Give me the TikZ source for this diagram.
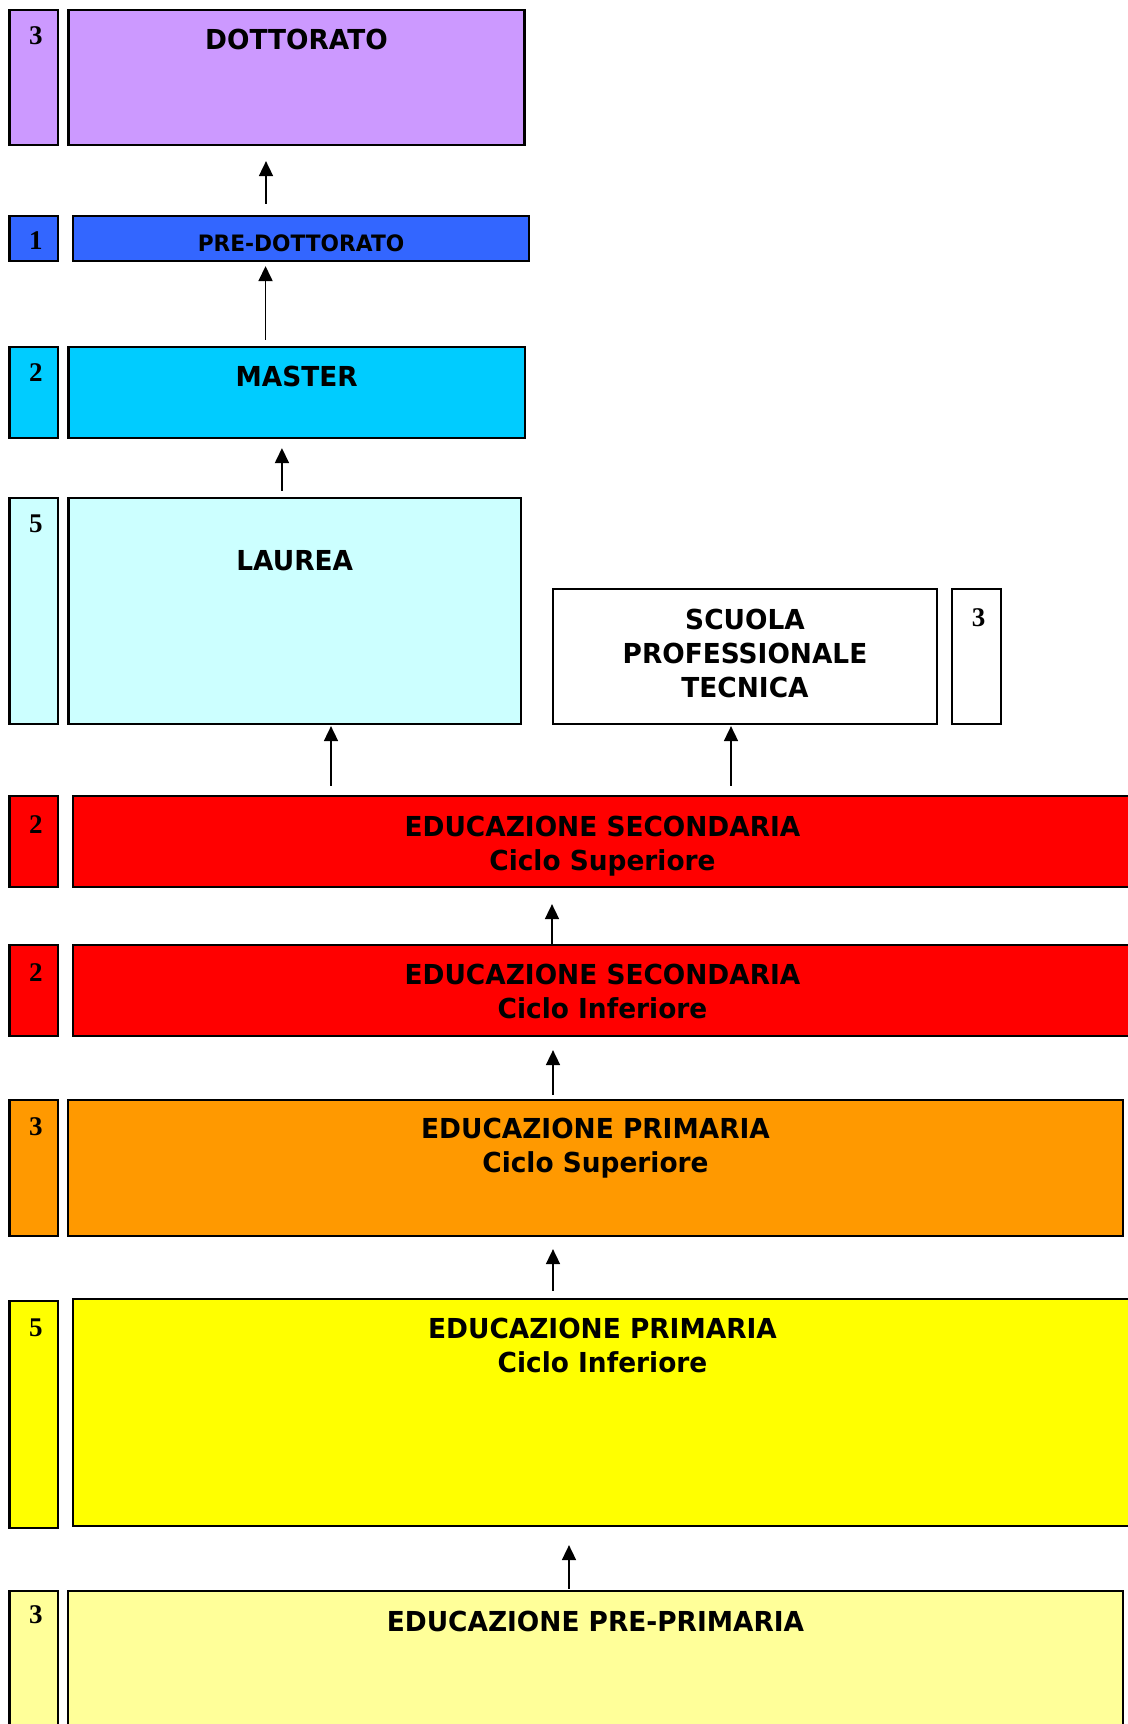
\documentclass[tikz,border=0pt]{standalone}
\usepackage{fontspec}
\usepackage{xcolor}
\usepackage{tikz}
\usetikzlibrary{arrows.meta, positioning, fit}

\newfontfamily\lblfont[FakeStretch=0.96]{DejaVu Sans}
\newfontfamily\numfont{Liberation Serif}

\definecolor{cDott}{HTML}{CC99FF}
\definecolor{cPreDott}{HTML}{3366FF}
\definecolor{cMaster}{HTML}{00CCFF}
\definecolor{cLaurea}{HTML}{CCFFFF}
\definecolor{cSec}{HTML}{FF0000}
\definecolor{cPrimSup}{HTML}{FF9900}
\definecolor{cPrimInf}{HTML}{FFFF00}
\definecolor{cPrePrim}{HTML}{FFFF99}

\begin{document}
\begin{tikzpicture}[
    x=0.5pt, y=-0.5pt,
    box/.style={draw=black, line width=1.1pt, fill=#1, inner sep=0pt},
    lbl/.style={font=\lblfont\bfseries\fontsize{13.75}{17}\selectfont,
        align=center, inner sep=0pt},
    num/.style={font=\numfont\bfseries\fontsize{13.5}{15}\selectfont,
        inner sep=0pt, xshift=1pt},
    arr/.style={-{Triangle[length=7.5pt, width=7pt]}, line width=0.85pt},
]
\useasboundingbox (0,0) rectangle (1128,1724);

%% Years column
\node[box=cDott,     fit={(9.5,10) (58,145)}]    (ndott) {};
\node[box=cPreDott,  fit={(9.5,216) (58,261)}]   (npredott) {};
\node[box=cMaster,   fit={(9.5,347) (58,438)}]   (nmaster) {};
\node[box=cLaurea,   fit={(9.5,498) (58,724)}]   (nlaurea) {};
\node[box=white,     fit={(952,589) (1001,724)}] (nscuola) {};
\node[box=cSec,      fit={(9.5,796) (58,887)}]   (nsecsup) {};
\node[box=cSec,      fit={(9.5,945) (58,1036)}]  (nsecinf) {};
\node[box=cPrimSup,  fit={(9.5,1100) (58,1236)}] (nprimsup) {};
\node[box=cPrimInf,  fit={(9.5,1301) (58,1528)}] (npriminf) {};
\node[box=cPrePrim,  fit={(9.5,1591) (58,1750)}] (npreprim) {};

\node[num, below=8.5pt of ndott.north]    (ydott)    {3};
\node[num, below=8pt of npredott.north]   (ypredott) {1};
\node[num, below=8.5pt of nmaster.north]  (ymaster)  {2};
\node[num, below=9pt of nlaurea.north]    (ylaurea)  {5};
\node[num, below=10pt of nscuola.north]   (yscuola)  {3};
\node[num, below=10pt of nsecsup.north]   (ysecsup)  {2};
\node[num, below=9.5pt of nsecinf.north]  (ysecinf)  {2};
\node[num, below=9pt of nprimsup.north]   (yprimsup) {3};
\node[num, below=9.5pt of npriminf.north] (ypriminf) {5};
\node[num, below=7.5pt of npreprim.north] (ypreprim) {3};

%% Levels
\node[box=cDott,     fit={(68.5,10) (524.5,145)}]  (dott) {};
\node[box=cPreDott,  fit={(73,216) (529,261)}]     (predott) {};
\node[box=cMaster,   fit={(68.5,347) (525,438)}]   (master) {};
\node[box=cLaurea,   fit={(68.5,498) (521,724)}]   (laurea) {};
\node[box=white,     fit={(553,589) (937,724)}]    (scuola) {};
\node[box=cSec,      fit={(73,796) (1140,887)}]    (secsup) {};
\node[box=cSec,      fit={(73,945) (1140,1036)}]   (secinf) {};
\node[box=cPrimSup,  fit={(68,1100) (1123,1236)}]  (primsup) {};
\node[box=cPrimInf,  fit={(73,1299) (1140,1526)}]  (priminf) {};
\node[box=cPrePrim,  fit={(68,1591) (1123,1750)}]  (preprim) {};

\node[lbl, below=10pt of dott.north]     (tdott)    {DOTTORATO};
\node[lbl, below=9.5pt of predott.north, font=\lblfont\bfseries\fontsize{11.3}{13}\selectfont]
    (tpredott) {PRE-DOTTORATO};
\node[lbl, below=10pt of master.north]   (tmaster)  {MASTER};
\node[lbl, below=26.5pt of laurea.north] (tlaurea)  {LAUREA};
\node[lbl, below=10.5pt of scuola.north] (tscuola)  {SCUOLA\\PROFESSIONALE\\TECNICA};
\node[lbl, below=10.5pt of secsup.north, xshift=-2pt] (tsecsup)
    {EDUCAZIONE SECONDARIA\\Ciclo Superiore};
\node[lbl, below=10pt of secinf.north, xshift=-2pt]   (tsecinf)
    {EDUCAZIONE SECONDARIA\\Ciclo Inferiore};
\node[lbl, below=9.5pt of primsup.north] (tprimsup)
    {EDUCAZIONE PRIMARIA\\Ciclo Superiore};
\node[lbl, below=10pt of priminf.north, xshift=-2pt]  (tpriminf)
    {EDUCAZIONE PRIMARIA\\Ciclo Inferiore};
\node[lbl, below=10.5pt of preprim.north] (tpreprim) {EDUCAZIONE PRE-PRIMARIA};

%% Arrows
\draw[arr, shorten <=5.5pt, shorten >=7.5pt]
    ([xshift=-17.5pt]predott.north) -- ([xshift=-17.5pt]predott.north |- dott.south);
\draw[arr, shorten <=3pt, shorten >=2pt]
    ([xshift=-15.6pt]master.north) -- ([xshift=-15.6pt]master.north |- predott.south);
\draw[arr, shorten <=3pt, shorten >=4.5pt]
    ([xshift=-6.4pt]laurea.north) -- ([xshift=-6.4pt]laurea.north |- master.south);
\draw[arr, shorten <=4.5pt, shorten >=0.5pt]
    ([xshift=-137.75pt]secsup.north) -- ([xshift=-137.75pt]secsup.north |- laurea.south);
\draw[arr, shorten <=4.5pt, shorten >=0.5pt]
    ([xshift=62.25pt]secsup.north) -- ([xshift=62.25pt]secsup.north |- scuola.south);
\draw[arr, shorten >=8pt]
    ([xshift=-27.25pt]secinf.north) -- ([xshift=-27.25pt]secinf.north |- secsup.south);
\draw[arr, shorten <=2pt, shorten >=6.5pt]
    ([xshift=-21.25pt]primsup.north) -- ([xshift=-21.25pt]primsup.north |- secinf.south);
\draw[arr, shorten <=3.5pt, shorten >=6pt]
    ([xshift=-26.75pt]priminf.north) -- ([xshift=-26.75pt]priminf.north |- primsup.south);
\draw[arr, shorten <=0.5pt, shorten >=9pt]
    ([xshift=-13.25pt]preprim.north) -- ([xshift=-13.25pt]preprim.north |- priminf.south);
\end{tikzpicture}
\end{document}
